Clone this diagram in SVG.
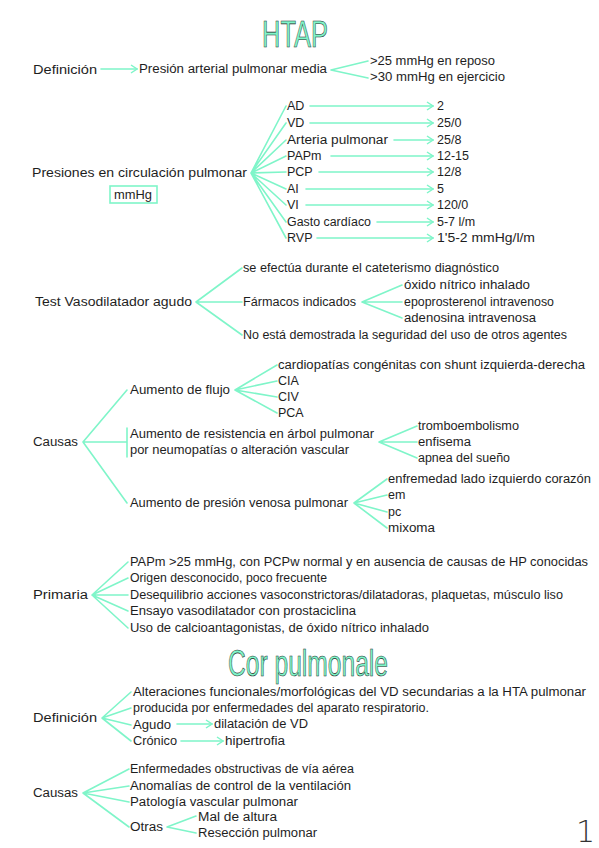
<svg xmlns="http://www.w3.org/2000/svg" width="599" height="848" viewBox="0 0 599 848">
<style>
text{font-family:"Liberation Sans","DejaVu Sans",sans-serif;font-size:12.5px;fill:#1e1e1e}
.title{font-size:37px;fill:#7ff5c9;stroke:#1e2a26;stroke-width:0.6px}
.c{stroke:#7ff5c9;stroke-width:1.6;fill:none;stroke-linecap:round}
.a{marker-end:url(#ar)}
.box{fill:none;stroke:#7ff5c9;stroke-width:1.6}
.pg{font-size:30px;font-family:"DejaVu Sans",sans-serif;font-weight:200;fill:#333}
</style>
<defs>
<marker id="ar" viewBox="0 0 8 10" refX="7" refY="5" markerWidth="8" markerHeight="10" markerUnits="userSpaceOnUse" orient="auto">
<path d="M1,1 L7,5 L1,9" fill="none" stroke="#7ff5c9" stroke-width="1.5"/>
</marker>
</defs>
<rect width="599" height="848" fill="#ffffff"/>

<g id="connectors">
<path class="c a" d="M101,69 H137"/>
<path class="c" d="M331,70 L368,61 M331,70 L368,78"/>
<path class="c" d="M251,173 L286,106 M251,173 L286,123 M251,173 L286,140 M251,173 L286,156 M251,173 L286,172 M251,173 L286,189 M251,173 L286,205 M251,173 L286,222 M251,173 L286,238"/>
<path class="c a" d="M310,106 H433"/>
<path class="c a" d="M310,123 H433"/>
<path class="c a" d="M394,140 H433"/>
<path class="c a" d="M331,156 H433"/>
<path class="c a" d="M319,172 H433"/>
<path class="c a" d="M306,189 H433"/>
<path class="c a" d="M306,205 H433"/>
<path class="c a" d="M377,222 H433"/>
<path class="c a" d="M317,238 H433"/>
<path class="c" d="M196,302 L242,268 M196,302 L242,302 M196,302 L242,335"/>
<path class="c" d="M362,302 L402,285 M362,302 L402,302 M362,302 L402,318"/>
<path class="c" d="M83,442 L127,390 M83,442 L127,442 M83,442 L127,503 M127,428 V457"/>
<path class="c" d="M235,390 L277,365 M235,390 L277,381 M235,390 L277,397 M235,390 L277,413"/>
<path class="c" d="M379,442 L417,426 M379,442 L417,442 M379,442 L417,458"/>
<path class="c" d="M354,503 L387,479 M354,503 L387,495 M354,503 L387,512 M354,503 L387,528"/>
<path class="c" d="M92,595 L128,562 M92,595 L128,578 M92,595 L128,595 M92,595 L128,611 M92,595 L128,628"/>
<path class="c" d="M102,718 L131,692 M102,718 L131,708 M102,718 L131,725 M102,718 L131,741"/>
<path class="c a" d="M177,724 H212"/>
<path class="c a" d="M181,741 H223"/>
<path class="c" d="M83,793 L129,769 M83,793 L129,786 M83,793 L129,802 M83,793 L129,827"/>
<path class="c" d="M167,827 L196,816 M167,827 L196,833"/>
</g>

<g id="title-htap"><text class="title" x="262" y="47" textLength="66" lengthAdjust="spacingAndGlyphs">HTAP</text></g>

<g id="definicion"><text x="33" y="74" textLength="64" lengthAdjust="spacingAndGlyphs">Definición</text></g>
<g id="presion-media"><text x="139" y="73" textLength="188" lengthAdjust="spacingAndGlyphs">Presión arterial pulmonar media</text></g>
<g id="reposo"><text x="370" y="65" textLength="125" lengthAdjust="spacingAndGlyphs">&gt;25 mmHg en reposo</text></g>
<g id="ejercicio"><text x="370" y="81" textLength="135" lengthAdjust="spacingAndGlyphs">&gt;30 mmHg en ejercicio</text></g>

<g id="presiones"><text x="32" y="177" textLength="215" lengthAdjust="spacingAndGlyphs">Presiones en circulación pulmonar</text></g>
<g id="mmhg"><rect class="box" x="110" y="186" width="47" height="17"/><text x="114" y="199" textLength="38" lengthAdjust="spacingAndGlyphs">mmHg</text></g>

<g id="ad"><text x="287" y="110">AD</text><text x="437" y="110">2</text></g>
<g id="vd"><text x="287" y="127">VD</text><text x="437" y="127">25/0</text></g>
<g id="arteria"><text x="287" y="144" textLength="101" lengthAdjust="spacingAndGlyphs">Arteria pulmonar</text><text x="437" y="144">25/8</text></g>
<g id="papm"><text x="287" y="160">PAPm</text><text x="437" y="160">12-15</text></g>
<g id="pcp"><text x="287" y="176">PCP</text><text x="437" y="176">12/8</text></g>
<g id="ai"><text x="287" y="193">AI</text><text x="437" y="193">5</text></g>
<g id="vi"><text x="287" y="209">VI</text><text x="437" y="209">120/0</text></g>
<g id="gasto"><text x="287" y="226" textLength="84" lengthAdjust="spacingAndGlyphs">Gasto cardíaco</text><text x="437" y="226">5-7 l/m</text></g>
<g id="rvp"><text x="287" y="242">RVP</text><text x="437" y="242" textLength="98" lengthAdjust="spacingAndGlyphs">1'5-2 mmHg/l/m</text></g>

<g id="test"><text x="35" y="306" textLength="157" lengthAdjust="spacingAndGlyphs">Test Vasodilatador agudo</text></g>
<g id="cateterismo"><text x="243" y="272" textLength="256" lengthAdjust="spacingAndGlyphs">se efectúa durante el cateterismo diagnóstico</text></g>
<g id="farmacos"><text x="243" y="306" textLength="113" lengthAdjust="spacingAndGlyphs">Fármacos indicados</text></g>
<g id="oxido"><text x="404" y="289" textLength="126" lengthAdjust="spacingAndGlyphs">óxido nítrico inhalado</text></g>
<g id="epoprosterenol"><text x="404" y="306" textLength="150" lengthAdjust="spacingAndGlyphs">epoprosterenol intravenoso</text></g>
<g id="adenosina"><text x="404" y="322" textLength="132" lengthAdjust="spacingAndGlyphs">adenosina intravenosa</text></g>
<g id="no-demostrada"><text x="243" y="339" textLength="324" lengthAdjust="spacingAndGlyphs">No está demostrada la seguridad del uso de otros agentes</text></g>

<g id="causas"><text x="33" y="446" textLength="45" lengthAdjust="spacingAndGlyphs">Causas</text></g>
<g id="flujo"><text x="130" y="394" textLength="100" lengthAdjust="spacingAndGlyphs">Aumento de flujo</text></g>
<g id="cardiopatias"><text x="278" y="369" textLength="307" lengthAdjust="spacingAndGlyphs">cardiopatías congénitas con shunt izquierda-derecha</text></g>
<g id="cia"><text x="278" y="385">CIA</text></g>
<g id="civ"><text x="278" y="401">CIV</text></g>
<g id="pca"><text x="278" y="417">PCA</text></g>
<g id="resistencia"><text x="130" y="438" textLength="244" lengthAdjust="spacingAndGlyphs">Aumento de resistencia en árbol pulmonar</text><text x="130" y="454" textLength="219" lengthAdjust="spacingAndGlyphs">por neumopatías o alteración vascular</text></g>
<g id="trombo"><text x="418" y="430" textLength="101" lengthAdjust="spacingAndGlyphs">tromboembolismo</text></g>
<g id="enfisema"><text x="418" y="446" textLength="53" lengthAdjust="spacingAndGlyphs">enfisema</text></g>
<g id="apnea"><text x="418" y="462" textLength="92" lengthAdjust="spacingAndGlyphs">apnea del sueño</text></g>
<g id="venosa"><text x="130" y="507" textLength="218" lengthAdjust="spacingAndGlyphs">Aumento de presión venosa pulmonar</text></g>
<g id="enfremedad"><text x="388" y="483" textLength="203" lengthAdjust="spacingAndGlyphs">enfremedad lado izquierdo corazón</text></g>
<g id="em"><text x="388" y="499">em</text></g>
<g id="pc"><text x="388" y="516">pc</text></g>
<g id="mixoma"><text x="388" y="532" textLength="47" lengthAdjust="spacingAndGlyphs">mixoma</text></g>

<g id="primaria"><text x="33" y="599" textLength="55" lengthAdjust="spacingAndGlyphs">Primaria</text></g>
<g id="p1"><text x="130" y="566" textLength="458" lengthAdjust="spacingAndGlyphs">PAPm &gt;25 mmHg, con PCPw normal y en ausencia de causas de HP conocidas</text></g>
<g id="p2"><text x="130" y="582" textLength="197" lengthAdjust="spacingAndGlyphs">Origen desconocido, poco frecuente</text></g>
<g id="p3"><text x="130" y="599" textLength="433" lengthAdjust="spacingAndGlyphs">Desequilibrio acciones vasoconstrictoras/dilatadoras, plaquetas, músculo liso</text></g>
<g id="p4"><text x="130" y="615" textLength="226" lengthAdjust="spacingAndGlyphs">Ensayo vasodilatador con prostaciclina</text></g>
<g id="p5"><text x="130" y="632" textLength="299" lengthAdjust="spacingAndGlyphs">Uso de calcioantagonistas, de óxido nítrico inhalado</text></g>

<g id="title-cor"><text class="title" x="228" y="676" textLength="160" lengthAdjust="spacingAndGlyphs">Cor pulmonale</text></g>

<g id="cor-definicion"><text x="33" y="722" textLength="64" lengthAdjust="spacingAndGlyphs">Definición</text></g>
<g id="alteraciones"><text x="133" y="696" textLength="453" lengthAdjust="spacingAndGlyphs">Alteraciones funcionales/morfológicas del VD secundarias a la HTA pulmonar</text><text x="133" y="712" textLength="296" lengthAdjust="spacingAndGlyphs">producida por enfermedades del aparato respiratorio.</text></g>
<g id="agudo"><text x="133" y="729" textLength="38" lengthAdjust="spacingAndGlyphs">Agudo</text></g>
<g id="dilatacion"><text x="214" y="728" textLength="94" lengthAdjust="spacingAndGlyphs">dilatación de VD</text></g>
<g id="cronico"><text x="133" y="745" textLength="44" lengthAdjust="spacingAndGlyphs">Crónico</text></g>
<g id="hipertrofia"><text x="225" y="745" textLength="60" lengthAdjust="spacingAndGlyphs">hipertrofia</text></g>

<g id="cor-causas"><text x="33" y="797" textLength="45" lengthAdjust="spacingAndGlyphs">Causas</text></g>
<g id="obstructivas"><text x="130" y="773" textLength="224" lengthAdjust="spacingAndGlyphs">Enfermedades obstructivas de vía aérea</text></g>
<g id="anomalias"><text x="130" y="790" textLength="221" lengthAdjust="spacingAndGlyphs">Anomalías de control de la ventilación</text></g>
<g id="patologia"><text x="130" y="806" textLength="168" lengthAdjust="spacingAndGlyphs">Patología vascular pulmonar</text></g>
<g id="otras"><text x="130" y="831" textLength="33" lengthAdjust="spacingAndGlyphs">Otras</text></g>
<g id="altura"><text x="198" y="821" textLength="79" lengthAdjust="spacingAndGlyphs">Mal de altura</text></g>
<g id="reseccion"><text x="198" y="837" textLength="119" lengthAdjust="spacingAndGlyphs">Resección pulmonar</text></g>

<g id="page-number"><text class="pg" x="576" y="842">1</text></g>
</svg>
